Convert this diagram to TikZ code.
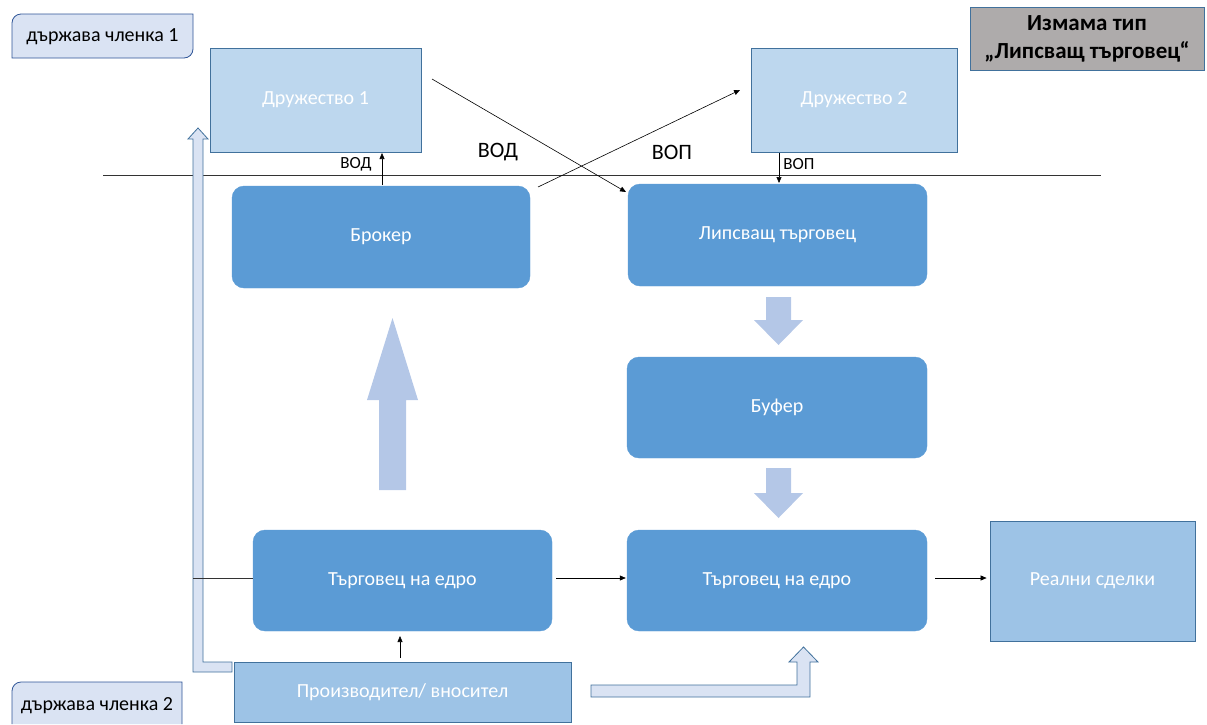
\documentclass[tikz,border=0pt]{standalone}
\usepackage{fontspec}
\setmainfont{Carlito}
\usetikzlibrary{arrows.meta}
\definecolor{dblue}{HTML}{5B9BD5}
\definecolor{lblue}{HTML}{BDD7EE}
\definecolor{mblue}{HTML}{9DC3E6}
\definecolor{pblue}{HTML}{DAE3F3}
\definecolor{ablue}{HTML}{B4C7E7}
\definecolor{bord}{HTML}{41719C}
\definecolor{sbord}{HTML}{2F5597}
\definecolor{greyf}{HTML}{AEABAB}
\tikzset{
  rbox/.style={fill=dblue, draw=dblue, rounded corners=12pt, text=white, font=\fontsize{20}{24}\selectfont},
  sbox/.style={draw=bord, line width=0.8pt, text=white, font=\fontsize{20}{24}\selectfont},
  conn/.style={-{Triangle[length=6pt,width=5pt]}, line width=0.6pt, black},
  fatarrow/.style={fill=ablue, draw=none},
  hollow/.style={fill=pblue, draw=bord, line width=0.8pt},
  lbl/.style={font=\fontsize{17}{20}\selectfont, inner sep=0pt},
  biglbl/.style={font=\fontsize{22}{26}\selectfont, inner sep=0pt}
}
\begin{document}
\begin{tikzpicture}[x=1pt,y=-1pt]
\useasboundingbox (0,0) rectangle (1207,724);
% horizontal border line
\draw[line width=0.6pt, black!80] (103,175) -- (1101,175);
% state box 1
\draw[fill=pblue, draw=sbord, line width=0.8pt] (12,36) [rounded corners=9pt] -- (12,14) [sharp corners] -- (193,14) [rounded corners=9pt] -- (193,58) [sharp corners] -- (12,58) -- cycle;
\node[font=\fontsize{20}{24}\selectfont] (st1) at (102.5,37) {държава членка 1};
% state box 2
\draw[fill=pblue, draw=sbord, line width=0.8pt] (12,724) [rounded corners=9pt] -- (12,682) [sharp corners] -- (182,682) -- (182,724);
\node[font=\fontsize{20}{24}\selectfont] (st2) at (97,706) {държава членка 2};
% title box
\node[draw=bord, fill=greyf, line width=0.8pt, minimum width=234pt, minimum height=63pt, align=center, font=\bfseries\fontsize{23}{28}\selectfont] (title) at (1087,38.5) {Измама тип\\„Липсващ търговец“};
% company boxes
\node[sbox, fill=lblue, minimum width=211pt, minimum height=104pt] (d1) at (315.5,100) {Дружество 1};
\node[sbox, fill=lblue, minimum width=206pt, minimum height=104pt] (d2) at (854,100) {Дружество 2};
% rounded boxes
\node[rbox, minimum width=298pt, minimum height=102pt] (br) at (381,237) {Брокер};
\node[rbox, minimum width=299pt, minimum height=102pt] (lt) at (777.5,235) {Липсващ търговец};
\node[rbox, minimum width=300pt, minimum height=101pt] (bf) at (777,407.5) {Буфер};
\node[rbox, minimum width=299pt, minimum height=101pt] (w1) at (402.5,580.5) {Търговец на едро};
\node[rbox, minimum width=300pt, minimum height=101pt] (w2) at (777,580.5) {Търговец на едро};
\node[sbox, fill=mblue, minimum width=205pt, minimum height=120pt] (rs) at (1092.5,581) {Реални сделки};
\node[sbox, fill=mblue, minimum width=337pt, minimum height=60pt] (pr) at (402.5,692) {Производител/ вносител};
% fat arrows
\path[fatarrow] (392.5,318) -- (418,400) -- (406,400) -- (406,490) -- (379,490) -- (379,400) -- (367,400) -- cycle;
\path[fatarrow] (766,297) -- (791,297) -- (791,320) -- (803,320) -- (778.5,345) -- (754,320) -- (766,320) -- cycle;
\path[fatarrow] (766,468) -- (791,468) -- (791,493) -- (803,493) -- (778.5,518) -- (754,493) -- (766,493) -- cycle;
% hollow arrows
\draw[hollow] (198,128) -- (208,139) -- (203,139) -- (203,662) -- (232,662) -- (232,672) -- (193,672) -- (193,139) -- (188,139) -- cycle;
\draw[hollow] (591,685) -- (797,685) -- (797,662) -- (789,662) -- (803.5,647) -- (818,662) -- (810,662) -- (810,697) -- (591,697) -- cycle;
% connectors
\coordinate (c1s) at (432,79);
\coordinate (c1e) at (626,192);
\coordinate (c2s) at (538,187);
\coordinate (c2e) at (740,90);
\coordinate (lx) at (193,578);
\coordinate (vods) at (382,185);
\coordinate (vode) at (382,153);
\coordinate (vops) at (779,153);
\coordinate (vope) at (779,183);
\coordinate (ps) at (400,658);
\coordinate (pe) at (400,636);
\draw[conn] (c1s) -- (c1e);
\draw[conn] (c2s) -- (c2e);
\draw[conn] (vods) -- (vode);
\draw[conn] (vops) -- (vope);
\draw[line width=0.6pt, black!80] (lx) -- (lx -| w1.west);
\draw[conn] ([xshift=4pt]lx -| w1.east) -- ([xshift=-1pt]lx -| w2.west);
\draw[conn] ([xshift=8pt]lx -| w2.east) -- ([xshift=-3pt]lx -| rs.west);
\draw[conn] (ps) -- (pe);
% labels
\node[lbl] (vod1) at (356,164) {ВОД};
\node[lbl] (vop1) at (799,164) {ВОП};
\node[biglbl] (vod2) at (498,152) {ВОД};
\node[biglbl] (vop2) at (672,152) {ВОП};
\end{tikzpicture}
\end{document}
